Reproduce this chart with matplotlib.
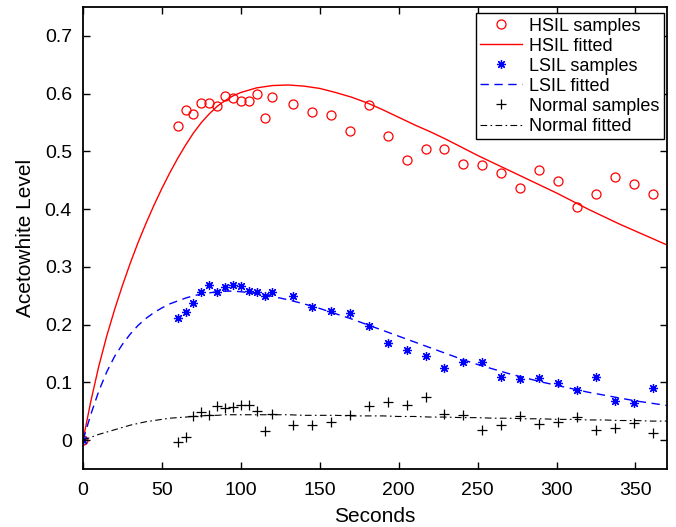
import matplotlib
matplotlib.use("Agg")
import matplotlib.pyplot as plt
import numpy as np

# sample times (s)
t_samples = [0, 60, 65, 70, 75, 80, 85, 90, 95, 100, 105, 110, 115, 120,
             133, 145, 157, 169, 181, 193, 205, 217, 229, 241, 253, 265,
             277, 289, 301, 313, 325, 337, 349, 361]

hsil_samples = [0, 0.544, 0.572, 0.565, 0.583, 0.584, 0.578, 0.596, 0.593,
                0.587, 0.588, 0.599, 0.557, 0.594, 0.582, 0.569, 0.563, 0.535,
                0.581, 0.527, 0.485, 0.505, 0.505, 0.478, 0.476, 0.463, 0.437,
                0.468, 0.449, 0.403, 0.426, 0.455, 0.444, 0.426]

lsil_samples = [0, 0.212, 0.222, 0.237, 0.256, 0.268, 0.257, 0.266, 0.268,
                0.267, 0.258, 0.257, 0.250, 0.256, 0.250, 0.231, 0.224, 0.220,
                0.197, 0.168, 0.156, 0.146, 0.125, 0.136, 0.136, 0.110, 0.106,
                0.108, 0.099, 0.087, 0.110, 0.068, 0.064, 0.091]

normal_samples = [0, -0.004, 0.006, 0.042, 0.048, 0.044, 0.059, 0.056, 0.058,
                  0.061, 0.061, 0.050, 0.016, 0.045, 0.026, 0.027, 0.032, 0.044,
                  0.059, 0.066, 0.061, 0.075, 0.046, 0.044, 0.018, 0.026, 0.042,
                  0.028, 0.032, 0.040, 0.017, 0.021, 0.029, 0.012]

# fitted curves
t_fit = [0, 5, 10, 15, 20, 25, 30, 35, 40, 45, 50, 55, 60, 65, 70, 75, 80,
         85, 90, 95, 100, 110, 120, 130, 140, 150, 160, 170, 180, 190, 200,
         210, 220, 230, 240, 250, 260, 270, 280, 290, 300, 310, 320, 330,
         340, 350, 360, 370]

hsil_fit = [0, 0.068, 0.128, 0.180, 0.226, 0.268, 0.307, 0.343, 0.376, 0.407,
            0.436, 0.463, 0.488, 0.511, 0.532, 0.550, 0.565, 0.578, 0.588,
            0.596, 0.602, 0.610, 0.614, 0.615, 0.613, 0.609, 0.602, 0.594,
            0.584, 0.572, 0.559, 0.546, 0.534, 0.521, 0.507, 0.493, 0.480,
            0.467, 0.454, 0.441, 0.428, 0.414, 0.400, 0.387, 0.374, 0.362,
            0.350, 0.338]

lsil_fit = [0, 0.045, 0.085, 0.118, 0.145, 0.166, 0.184, 0.199, 0.211, 0.221,
            0.229, 0.236, 0.241, 0.246, 0.250, 0.253, 0.255, 0.257, 0.258,
            0.258, 0.257, 0.254, 0.249, 0.243, 0.236, 0.228, 0.219, 0.210,
            0.200, 0.190, 0.180, 0.170, 0.160, 0.150, 0.140, 0.131, 0.123,
            0.115, 0.108, 0.101, 0.095, 0.089, 0.083, 0.078, 0.073, 0.068,
            0.064, 0.060]

normal_fit = [0, 0.005, 0.010, 0.014, 0.018, 0.022, 0.026, 0.029, 0.032,
              0.034, 0.036, 0.038, 0.039, 0.040, 0.041, 0.042, 0.043, 0.043,
              0.044, 0.044, 0.044, 0.044, 0.044, 0.044, 0.043, 0.043, 0.043,
              0.042, 0.042, 0.042, 0.041, 0.041, 0.040, 0.040, 0.039, 0.039,
              0.038, 0.038, 0.037, 0.037, 0.036, 0.036, 0.035, 0.035, 0.034,
              0.034, 0.033, 0.033]

plt.rcParams["font.family"] = ["Liberation Sans", "DejaVu Sans"]

fig = plt.figure(figsize=(6.76, 5.27), dpi=100)
ax = fig.add_axes([0.1228, 0.110, 0.8639, 0.8767])

ax.plot(t_samples, hsil_samples, "o", color="red", mfc="none", ms=6.5,
        mew=0.9, label="HSIL samples")
ax.plot(t_fit, hsil_fit, "-", color="red", lw=1.0, label="HSIL fitted")
ax.plot(t_samples, lsil_samples, ls="none", marker=(8, 2, 0), color="blue",
        ms=6.5, mew=0.9, label="LSIL samples")
ax.plot(t_fit, lsil_fit, color="blue", lw=1.0, dashes=(6, 4),
        label="LSIL fitted")
ax.plot(t_samples, normal_samples, "+", color="black", ms=7, mew=0.9,
        label="Normal samples")
ax.plot(t_fit, normal_fit, color="black", lw=0.8, dashes=(6, 3, 1.5, 3),
        label="Normal fitted")

ax.set_xlim(0, 370)
ax.set_ylim(-0.05, 0.75)
ax.set_xticks(np.arange(0, 351, 50))
ax.set_yticks(np.arange(0, 0.71, 0.1))
ax.set_yticklabels(["0", "0.1", "0.2", "0.3", "0.4", "0.5", "0.6", "0.7"])
ax.tick_params(direction="in", top=True, right=True, length=5, width=1,
               labelsize=14)
ax.tick_params(axis="x", pad=9)
ax.tick_params(axis="y", pad=8)
for s in ax.spines.values():
    s.set_linewidth(1.3)

ax.set_xlabel("Seconds", fontsize=15, labelpad=6)
ax.set_ylabel("Acetowhite Level", fontsize=15, labelpad=7)

leg = ax.legend(loc="upper right", bbox_to_anchor=(0.995, 0.987),
                fancybox=False, framealpha=1, edgecolor="black", fontsize=13,
                labelspacing=0.17, handlelength=2.3, handletextpad=0.4,
                borderpad=0.25, borderaxespad=0, numpoints=1)
leg.get_frame().set_linewidth(1.0)

fig.savefig("out.png", dpi=100)
